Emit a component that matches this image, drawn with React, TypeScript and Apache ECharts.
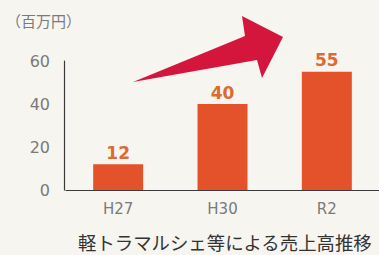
import React, { useEffect, useRef } from "react";
import * as echarts from "echarts";

const categories = ["H27", "H30", "R2"];
const salesValues = [12, 40, 55];
const yTicks = [0, 20, 40, 60];
const unitLabel = "（百万円）";
const captionText = "軽トラマルシェ等による売上高推移";

export default function App() {
  const ref = useRef<HTMLDivElement>(null);
  useEffect(() => {
    if (!ref.current) return;
    const chart = echarts.init(ref.current, null, { renderer: "svg" });
    chart.setOption({
      animation: false,
      backgroundColor: "#f7f5f0",
      grid: { left: 66, right: -7, top: 61, bottom: 65, containLabel: false },
      xAxis: {
        type: "category",
        data: categories,
        axisLine: { lineStyle: { color: "#3a3a3a", width: 1.2 } },
        axisTick: { show: false },
        axisLabel: {
          color: "#7a7a7a",
          fontSize: 15,
          fontFamily: "DejaVu Sans",
          margin: 11,
        },
      },
      yAxis: {
        type: "value",
        min: yTicks[0],
        max: yTicks[yTicks.length - 1],
        interval: 20,
        offset: 2,
        axisLine: { show: true, lineStyle: { color: "#3a3a3a", width: 1.2 } },
        axisTick: { show: false },
        splitLine: { show: false },
        axisLabel: {
          color: "#7a7a7a",
          fontSize: 16,
          fontFamily: "DejaVu Sans",
          margin: 14,
        },
      },
      series: [
        {
          type: "bar",
          data: salesValues,
          barWidth: 50,
          itemStyle: { color: "#e4522b" },
          label: {
            show: true,
            position: "top",
            distance: 3,
            color: "#dd6a30",
            fontSize: 17,
            fontWeight: "bold",
            fontFamily: "DejaVu Sans",
          },
        },
      ],
      graphic: [
        {
          type: "text",
          left: 6,
          top: 13,
          style: {
            text: unitLabel,
            fontSize: 15,
            fill: "#7a7a7a",
            fontFamily: "Noto Sans CJK JP",
          },
        },
        {
          type: "text",
          left: 78,
          top: 233,
          style: {
            text: captionText,
            fontSize: 18.4,
            fill: "#333333",
            fontFamily: "Noto Sans CJK JP",
          },
        },
        {
          type: "polygon",
          shape: {
            points: [
              [133, 82],
              [245, 36],
              [242, 16],
              [283, 37],
              [262, 78],
              [257, 60],
            ],
          },
          style: { fill: "#d4163c" },
        },
      ],
    });
    return () => chart.dispose();
  }, []);
  return (
    <div style={{ position: "fixed", left: 0, top: 0 }}>
      <div ref={ref} style={{ width: 379, height: 255 }} />
    </div>
  );
}
